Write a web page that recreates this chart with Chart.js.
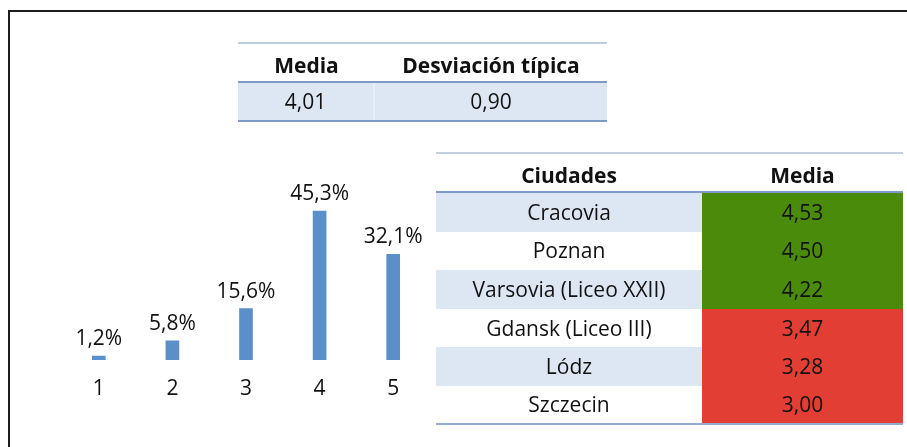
<!DOCTYPE html>
<html lang="es">
<head>
<meta charset="utf-8">
<title>Distribución de respuestas y medias por ciudad</title>
<script src="https://cdn.jsdelivr.net/npm/chart.js@4.4.1/dist/chart.umd.min.js"></script>
<style>
  html, body { margin: 0; padding: 0; }
  body {
    position: relative;
    width: 907px; height: 447px;
    overflow: hidden;
    background: #ffffff;
    font-family: "Open Sans", "Noto Sans", sans-serif;
    color: #111;
  }
  #frame {
    position: absolute; left: 8px; top: 10px;
    width: 1000px; height: 1000px;
    border-top: 2px solid #1c1c1c;
    border-left: 2px solid #1c1c1c;
    box-sizing: border-box;
  }
  #chart { position: absolute; left: 0; top: 0; }
  .tbl { position: absolute; box-sizing: border-box; }
  .row { display: flex; box-sizing: border-box; }
  .cell {
    box-sizing: border-box;
    display: flex; align-items: center; justify-content: center;
    font-size: 21px; line-height: 1;
    white-space: nowrap;
  }
  .head .cell { font-weight: 700; padding-top: 5px; }
  .shade { background: #dde7f3; }

  #summary { left: 238px; top: 42px; width: 369px; border-top: 2px solid #bccbdf; }
  #summary .head { height: 39px; border-bottom: 2px solid #7d9bc6; }
  #summary .body { height: 39px; border-bottom: 2px solid #7d9bc6; }
  #summary .c0 { width: 137px; }
  #summary .c1 { width: 232px; }
  #summary .body .c0 { border-right: 2px solid #e8eef7; }

  #cities { left: 436px; top: 152px; width: 467px; border-top: 2px solid #c3d1e3; }
  #cities .head { height: 39px; border-bottom: 2px solid #7d9bc6; }
  #cities .body { height: 38.6px; }
  #cities .body.last { border-bottom: 2px solid #93acd0; height: 39px; }
  #cities .c0 { width: 266px; }
  #cities .c1 { width: 201px; }
  .good { background: #4a8b0b; }
  .poor { background: #e33e33; }
</style>
</head>
<body>
<div id="frame"></div>
<canvas id="chart" width="907" height="447"></canvas>
<div id="summary" class="tbl"></div>
<div id="cities" class="tbl"></div>

<script>
// Answer scale and share of answers per score (%)
const categories = ['1', '2', '3', '4', '5'];
const percentages = [1.2, 5.8, 15.6, 45.3, 32.1];

// Overall summary
const summaryHeaders = ['Media', 'Desviación típica'];
const summaryValues = [4.01, 0.90];

// Mean score per city
const cityHeaders = ['Ciudades', 'Media'];
const cities = ['Cracovia', 'Poznan', 'Varsovia (Liceo XXII)', 'Gdansk (Liceo III)', 'Lódz', 'Szczecin'];
const cityMeans = [4.53, 4.50, 4.22, 3.47, 3.28, 3.00];

const fmt = (v, d) => v.toFixed(d).replace('.', ',');

// ---- summary table ----
function cell(text, cls) {
  const c = document.createElement('div');
  c.className = 'cell ' + cls;
  c.textContent = text;
  return c;
}
function row(cls) {
  const r = document.createElement('div');
  r.className = 'row ' + cls;
  return r;
}

const summary = document.getElementById('summary');
const sHead = row('head');
summaryHeaders.forEach((h, i) => sHead.appendChild(cell(h, 'c' + i)));
summary.appendChild(sHead);
const sBody = row('body shade');
summaryValues.forEach((v, i) => sBody.appendChild(cell(fmt(v, 2), 'c' + i)));
summary.appendChild(sBody);

// ---- city table: means above the overall mean in green, below in red ----
const overallMean = summaryValues[0];
const citiesEl = document.getElementById('cities');
const cHead = row('head');
cityHeaders.forEach((h, i) => cHead.appendChild(cell(h, 'c' + i)));
citiesEl.appendChild(cHead);
cities.forEach((name, i) => {
  const r = row('body' + (i === cities.length - 1 ? ' last' : ''));
  r.appendChild(cell(name, 'c0' + (i % 2 === 0 ? ' shade' : '')));
  r.appendChild(cell(fmt(cityMeans[i], 2), 'c1 ' + (cityMeans[i] >= overallMean ? 'good' : 'poor')));
  citiesEl.appendChild(r);
});

// ---- bar chart ----
const FONT = '"Open Sans", "Noto Sans", sans-serif';

const valueLabels = {
  id: 'valueLabels',
  afterDatasetsDraw(chart) {
    const ctx = chart.ctx;
    const meta = chart.getDatasetMeta(0);
    ctx.save();
    ctx.font = '21px ' + FONT;
    ctx.fillStyle = '#111';
    ctx.textAlign = 'center';
    ctx.textBaseline = 'alphabetic';
    meta.data.forEach((bar, i) => {
      const v = chart.data.datasets[0].data[i];
      ctx.fillText(fmt(v, 1) + '%', bar.x, bar.y - 11);
    });
    ctx.restore();
  }
};

new Chart(document.getElementById('chart'), {
  type: 'bar',
  data: {
    labels: categories,
    datasets: [{
      data: percentages,
      backgroundColor: '#5b8fca',
      borderWidth: 0,
      barThickness: 13
    }]
  },
  options: {
    responsive: false,
    animation: false,
    devicePixelRatio: 1,
    layout: { padding: { left: 62, right: 477, top: 195.5, bottom: 0 } },
    plugins: { legend: { display: false }, tooltip: { enabled: false } },
    scales: {
      x: {
        grid: { display: false, drawTicks: false },
        border: { display: false },
        ticks: { color: '#111', font: { family: FONT, size: 21 }, padding: 16 },
        afterFit(axis) { axis.height = 87; }
      },
      y: { display: false, min: 0, max: 50 }
    }
  },
  plugins: [valueLabels]
});
</script>
</body>
</html>
